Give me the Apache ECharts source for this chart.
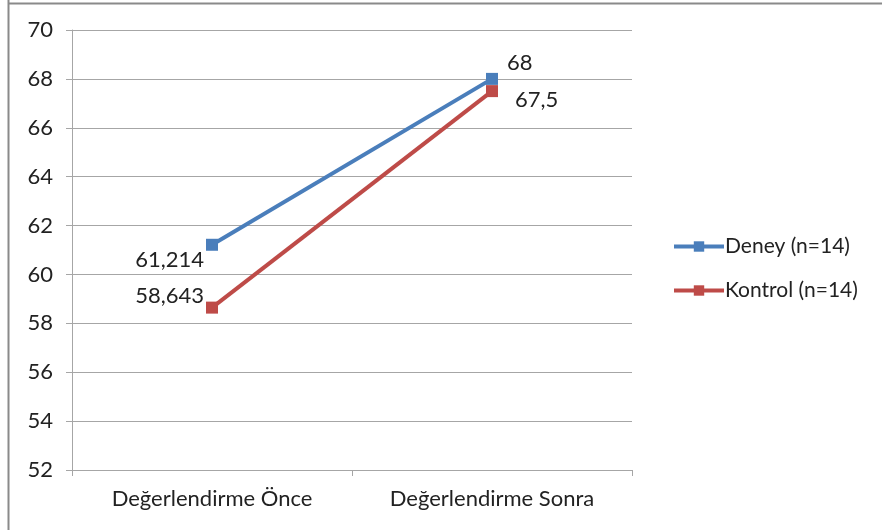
<!DOCTYPE html>
<html>
<head>
<meta charset="utf-8">
<script src="https://cdn.jsdelivr.net/npm/echarts@6/dist/echarts.min.js"></script>
<style>html,body{margin:0;padding:0;background:#fff;}#c{width:882px;height:530px;}</style>
</head>
<body>
<div id="c"></div>
<script>
const categories = ['Değerlendirme Önce', 'Değerlendirme Sonra'];
const deney = [61.214, 68];
const kontrol = [58.643, 67.5];
const seriesNames = ['Deney (n=14)', 'Kontrol (n=14)'];

const FONT = 'Lato, "Open Sans", sans-serif';
const FS = 22;
const fmt = p => String(p.value).replace('.', ',');
const chart = echarts.init(document.getElementById('c'));
chart.setOption({
  animation: false,
  backgroundColor: '#fff',
  graphic: [
    { type: 'line', shape: { x1: 8.5, y1: 0, x2: 8.5, y2: 530 }, style: { stroke: '#8a8a8a', lineWidth: 2 } },
    { type: 'line', shape: { x1: 8, y1: 3.5, x2: 882, y2: 3.5 }, style: { stroke: '#8a8a8a', lineWidth: 2 } }
  ],
  grid: { left: 72, right: 250, top: 30, bottom: 60 },
  legend: {
    orient: 'vertical',
    left: 667,
    top: 231,
    itemWidth: 50,
    itemHeight: 13,
    itemGap: 23,
    lineStyle: { width: 4 },
    textStyle: { fontFamily: FONT, fontSize: 21, color: '#222', padding: [0, 0, 0, -4] },
    data: seriesNames
  },
  xAxis: {
    type: 'category',
    data: categories,
    boundaryGap: true,
    axisLine: { lineStyle: { color: '#a6a6a6', width: 1 } },
    axisTick: { show: true, length: 6, lineStyle: { color: '#a6a6a6' } },
    axisLabel: { fontFamily: FONT, fontSize: FS, color: '#222', margin: 18 }
  },
  yAxis: {
    type: 'value',
    min: 52, max: 70, interval: 2,
    axisLine: { show: true, lineStyle: { color: '#a6a6a6', width: 1 } },
    axisTick: { show: true, length: 6, lineStyle: { color: '#a6a6a6' } },
    splitLine: { lineStyle: { color: '#a6a6a6', width: 1 } },
    axisLabel: { fontFamily: FONT, fontSize: FS, color: '#222', margin: 19 }
  },
  series: [
    {
      name: seriesNames[0], type: 'line', data: [
        { value: deney[0], label: { position: 'left', distance: 2, offset: [0, 15] } },
        { value: deney[1], label: { position: 'right', distance: 5, offset: [4, -16] } }
      ],
      symbol: 'rect', symbolSize: 12,
      lineStyle: { color: '#4a7ebb', width: 4 },
      itemStyle: { color: '#4a7ebb' },
      label: { show: true, formatter: fmt, fontFamily: FONT, fontSize: FS, color: '#222' },
      z: 3
    },
    {
      name: seriesNames[1], type: 'line', data: [
        { value: kontrol[0], label: { position: 'left', distance: 2, offset: [0, -12] } },
        { value: kontrol[1], label: { position: 'right', distance: 5, offset: [12, 9] } }
      ],
      symbol: 'rect', symbolSize: 12,
      lineStyle: { color: '#be4b48', width: 4 },
      itemStyle: { color: '#be4b48' },
      label: { show: true, formatter: fmt, fontFamily: FONT, fontSize: FS, color: '#222' },
      z: 2
    }
  ]
});
</script>
</body>
</html>
